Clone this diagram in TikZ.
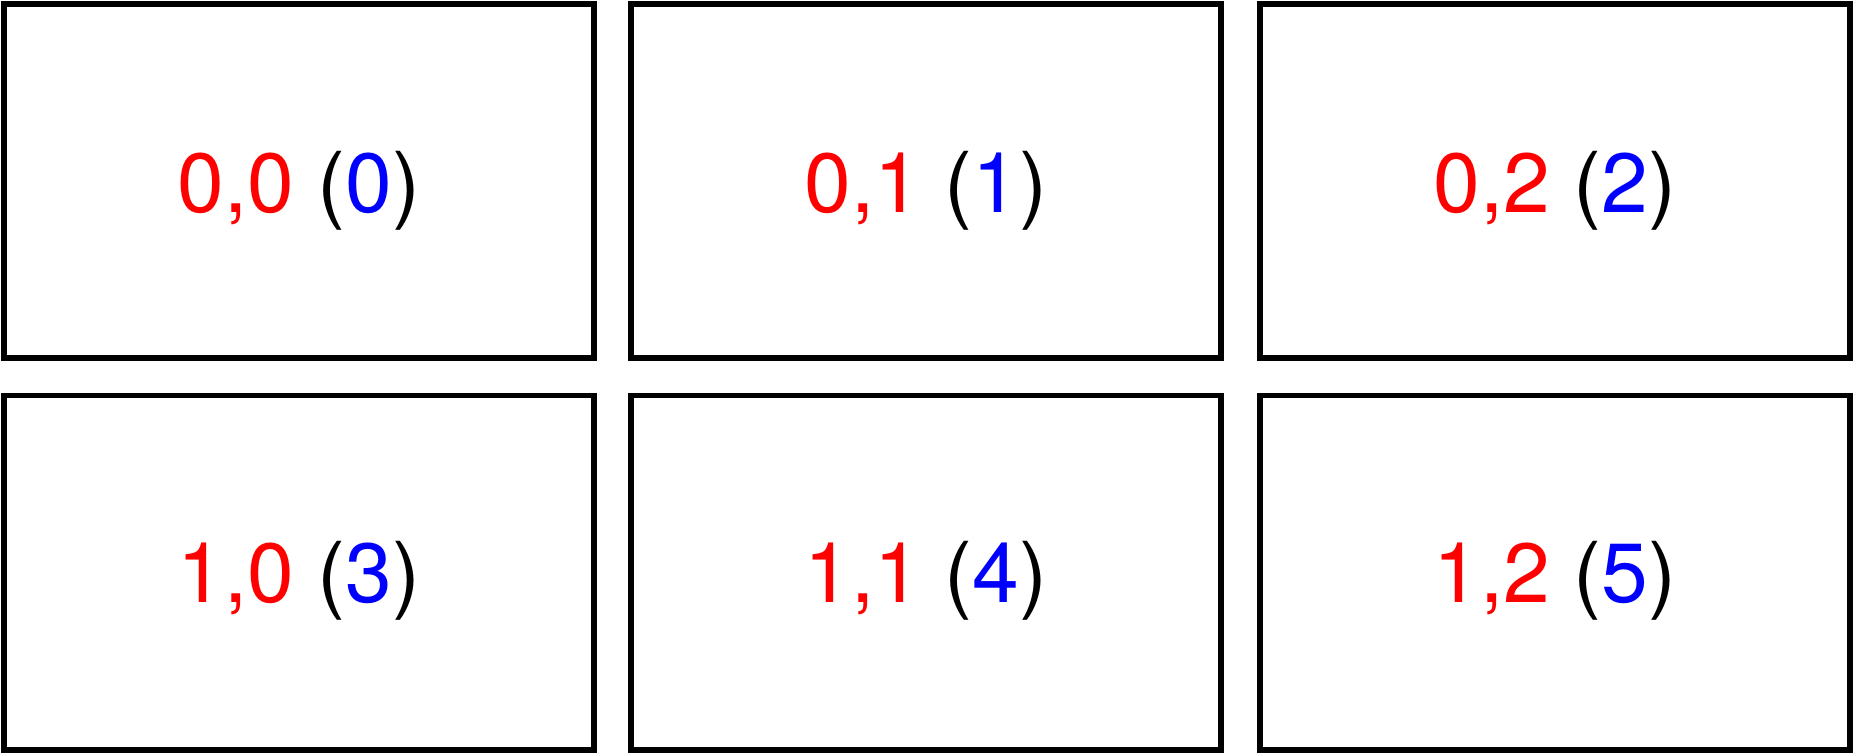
\documentclass[tikz,border=0pt]{standalone}
\usepackage{fontspec}
\setmainfont{TeX Gyre Heros}
\begin{document}
\begin{tikzpicture}[x=0.5pt,y=-0.5pt,
  cell/.style={draw=black, line width=2.75pt, minimum width=295pt, minimum height=177pt, inner sep=0pt, outer sep=0pt},
  lab/.style={anchor=base, font=\fontsize{42}{50}\selectfont, inner sep=0pt}]
\useasboundingbox (0,0) rectangle (1854,754);
\node[cell] (c00) at (299,181) {};
\node[cell] (c01) at (926,181) {};
\node[cell] (c02) at (1554.75,181) {};
\node[cell] (c10) at (299,572.75) {};
\node[cell] (c11) at (926,572.75) {};
\node[cell] (c12) at (1554.75,572.75) {};
\node[lab] (t00) at ([yshift=-16pt]c00.center) {\textcolor{red}{0,0} (\textcolor{blue}{0})};
\node[lab] (t01) at ([yshift=-16pt]c01.center) {\textcolor{red}{0,1} (\textcolor{blue}{1})};
\node[lab] (t02) at ([yshift=-16pt]c02.center) {\textcolor{red}{0,2} (\textcolor{blue}{2})};
\node[lab] (t10) at ([yshift=-15pt]c10.center) {\textcolor{red}{1,0} (\textcolor{blue}{3})};
\node[lab] (t11) at ([yshift=-15pt]c11.center) {\textcolor{red}{1,1} (\textcolor{blue}{4})};
\node[lab] (t12) at ([yshift=-15pt]c12.center) {\textcolor{red}{1,2} (\textcolor{blue}{5})};
\end{tikzpicture}
\end{document}
